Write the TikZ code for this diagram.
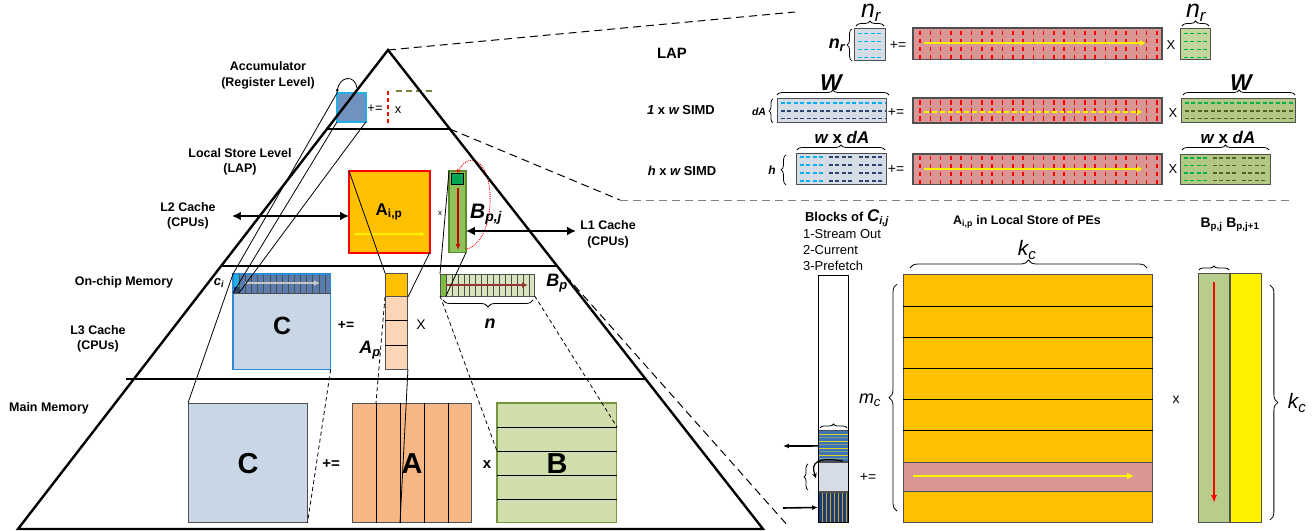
\documentclass[tikz,border=0pt]{standalone}
\usepackage{fontspec}
\setmainfont{Liberation Sans}
\usetikzlibrary{arrows.meta,decorations.pathreplacing,calc}
\newcommand\fsz[1]{\fontsize{#1}{#1}\selectfont}
\definecolor{accblue}{HTML}{7092BE}
\definecolor{cyanb}{HTML}{1FB0E8}
\definecolor{orng}{HTML}{FFC000}
\definecolor{grnstrip}{HTML}{8FC25A}
\definecolor{grnborder}{HTML}{5E8A2E}
\definecolor{dkgrn}{HTML}{00A650}
\definecolor{cfill}{HTML}{C9D6E6}
\definecolor{cblue}{HTML}{2C8AD3}
\definecolor{cstrip}{HTML}{5B7DAE}
\definecolor{peach}{HTML}{FBD5B5}
\definecolor{bpfill}{HTML}{D7E4BD}
\definecolor{bpcell}{HTML}{7DBB42}
\definecolor{darkred}{HTML}{953735}
\definecolor{mainA}{HTML}{F7B784}
\definecolor{mainB}{HTML}{CFDEAB}
\definecolor{mainBb}{HTML}{77933C}
\definecolor{lapred}{HTML}{D99694}
\definecolor{lgb}{HTML}{D6DCE5}
\definecolor{lapgrn}{HTML}{C3D69B}
\definecolor{simdgrn}{HTML}{B1C783}
\definecolor{navy}{HTML}{2E4470}
\definecolor{dkolive}{HTML}{4F6228}
\definecolor{dashgrn}{HTML}{00B050}
\definecolor{dashcyan}{HTML}{00B0F0}
\definecolor{olivedash}{HTML}{6E8B3D}
\definecolor{streamblue}{HTML}{3F73B5}
\definecolor{prefnavy}{HTML}{1F3C6E}
\definecolor{ochre}{HTML}{C9A43C}
\definecolor{sage}{HTML}{7FA08A}
\definecolor{bcol}{HTML}{B8CC8B}
\definecolor{boxgray}{HTML}{505050}
\definecolor{arrgray}{HTML}{C8C8C8}
\tikzset{
 bx/.style={draw=boxgray, line width=1, inner sep=0, outer sep=0, anchor=north west},
 lbl/.style={font=\fontsize{12.5}{15.5}\selectfont\bfseries, align=center, inner sep=0},
 txt/.style={inner sep=0},
 proj/.style={line width=0.8},
 projd/.style={line width=0.8, dash pattern=on 4 off 3},
 callout/.style={line width=1, dash pattern=on 8 off 5},
 brc/.style={decorate, decoration={brace, amplitude=#1}, line width=0.8},
 brc/.default=5,
 harrow/.style={line width=2.4, {Latex[length=9,width=9]}-{Latex[length=9,width=9]}},
 flow/.style={line width=1.6, -{Latex[length=6,width=5]}},
 reddash/.style={red, line width=1.6, dash pattern=on 4.5 off 3.5},
 hdash/.style={line width=1.6, dash pattern=on 4 off 2.5},
}
\begin{document}
\begin{tikzpicture}[x=1bp,y=-1bp]
\useasboundingbox[fill=white] (0,0) rectangle (1315,531);

% ---------------- pyramid
\coordinate (apex) at (388,50);
\coordinate (pbl) at (18,529);
\coordinate (pbr) at (763,529);
\coordinate (l1a) at ($(apex)!0.1649!(pbl)$);
\coordinate (l1b) at ($(apex)!0.1649!(pbr)$);
\coordinate (l2a) at ($(apex)!0.4509!(pbl)$);
\coordinate (l2b) at ($(apex)!0.4509!(pbr)$);
\coordinate (l3a) at ($(apex)!0.6868!(pbl)+(-8,0)$);
\coordinate (l3b) at ($(apex)!0.6868!(pbr)$);

% ---------------- labels left
\node[lbl] (tacc) at (268,75.5) {Accumulator\\(Register Level)};
\node[lbl] (tls) at (240,162) {Local Store Level\\(LAP)};
\node[lbl] (tl2) at (188,216) {L2 Cache\\(CPUs)};
\node[lbl] (tl1) at (608,234.5) {L1 Cache\\(CPUs)};
\node[lbl] (toc) at (124,282) {On-chip Memory};
\node[lbl] (tl3) at (98,339) {L3 Cache\\(CPUs)};
\node[lbl] (tmm) at (49,408) {Main Memory};

% ---------------- accumulator level
\node[bx, draw=cyanb, line width=1.8, fill=accblue, minimum width=29, minimum height=29] (acc) at (337,93) {};
\node[txt, font=\fsz{13}] (accpe) at (375,109) {+=};
\node[txt, font=\fsz{13}] (accx) at (398,110) {x};
\coordinate (rdt) at (388,91); \coordinate (rdb) at (388,125);
\draw[red, line width=2.2, dash pattern=on 4 off 3] (rdt) -- (rdb);
\coordinate (gdl) at (396,91); \coordinate (gdr) at (433,91);
\draw[olivedash, line width=2.4, dash pattern=on 6 off 4] (gdl) -- (gdr);
\coordinate (loopst) at (357,88);
\draw[line width=0.8, -{Stealth[length=4,width=3]}] (loopst) .. controls (355,74) and (339,76) .. (acc.north west);

% ---------------- local store level
\node[bx, draw=red, line width=1.8, fill=orng, minimum width=81, minimum height=82] (Aip) at (349,171) {};
\node[txt, font=\fsz{17}\bfseries] (tAip) at (389,212) {A\textsubscript{i,p}};
\coordinate (yal) at (354,234); \coordinate (yar) at (426,234);
\draw[yellow, line width=1.8, -{Latex[length=6,width=5]}] (yal) -- (yar);
\node[txt, font=\fsz{8}] (tx1) at (440,213) {x};
\node[bx, draw=grnborder, line width=1.5, fill=grnstrip, minimum width=17, minimum height=82] (Bpj) at (449,171) {};
\node[bx, draw=black, line width=0.8, fill=dkgrn, minimum width=12, minimum height=11] (Bsq) at (451,173) {};
\coordinate (rat) at (458,188); \coordinate (rab) at (458,250);
\draw[red!80!black, line width=1.5, -{Latex[length=6,width=5]}] (rat) -- (rab);
\coordinate (elst) at (467,249);
\draw[red, densely dotted, line width=0.9, -{Stealth[length=4,width=4]}] (elst) .. controls (497,240) and (497,162) .. (472,160) .. controls (466,160) and (461,166) .. (Bsq.north);
\node[txt, font=\fsz{21}\bfseries\itshape, anchor=west] (tBpj) at (470,214) {B\textsubscript{\fsz{14}p,j}};
\coordinate (l2end) at (232,216);
\draw[harrow] (l2end) -- (Aip.west |- l2end);
\coordinate (l1end) at (576,231);
\draw[harrow] (Bpj.east |- l1end) -- (l1end);

% ---------------- on-chip level
\node[bx, draw=cblue, line width=1.5, fill=cfill, minimum width=98, minimum height=96] (Con) at (233,274) {};
\node[bx, draw=none, fill=cstrip, minimum width=98, minimum height=19] (Cstrip) at (233,274) {};
\foreach \k in {1,...,15} \draw[black!70, line width=0.5] ({233+6.125*\k},274) -- ++(0,19);
\node[bx, draw=none, fill=navy, minimum width=6, minimum height=19] (cidk) at (233,274) {};
\node[bx, draw=none, fill=cyanb, minimum width=6, minimum height=13] (ci) at (233,274) {};
\draw[cblue, line width=1.5] (Con.north west) rectangle (Con.south east);
\draw[black!70, line width=0.6] (Cstrip.south west) -- (Cstrip.south east);
\coordinate (gal) at (245,283); \coordinate (gar) at (320,283);
\draw[arrgray, line width=2, -{Latex[length=6,width=6]}] (gal) -- (gar);
\node[txt, font=\fsz{13}\bfseries\itshape] (tci) at (219,283) {c\textsubscript{i}};
\node[txt, font=\fsz{25}\bfseries] (tC1) at (282,326) {C};
\node[txt, font=\fsz{14}\bfseries] (tpe1) at (346,325) {+=};
\node[bx, fill=peach, line width=0.9, minimum width=23, minimum height=97] (Ap) at (385,273) {};
\node[bx, fill=orng, line width=0.9, minimum width=23, minimum height=24] (Apo) at (385,273) {};
\draw[line width=0.8] (385,320) -- (408,320) (385,345) -- (408,345);
\node[txt, font=\fsz{18}\bfseries\itshape] (tAp) at (370,350) {A\textsubscript{\fsz{13}p}};
\node[txt, font=\fsz{14}] (tX1) at (421,325) {X};
\node[bx, fill=bpfill, line width=0.8, minimum width=95, minimum height=22] (Bp) at (440,274) {};
\foreach \k in {1,...,15} \draw[black!70, line width=0.5] ({440+5.94*\k},274) -- ++(0,22);
\node[bx, fill=bpcell, line width=0.6, minimum width=6, minimum height=22] (Bpc) at (440,274) {};
\coordinate (dal) at (446,285); \coordinate (dar) at (528,285);
\draw[darkred, line width=1.8, -{Latex[length=6,width=6]}] (dal) -- (dar);
\coordinate (nbr) at (533,300); \coordinate (nbl) at (443,300);
\draw[brc=7] (nbr) -- (nbl);
\node[txt, font=\fsz{18}\bfseries\itshape] (tn) at (490,324) {n};
\node[txt, font=\fsz{18}\bfseries\itshape] (tBp) at (557,283) {B\textsubscript{\fsz{13}p}};

% ---------------- main memory
\node[bx, fill=cfill, minimum width=120, minimum height=120] (Cm) at (188,403) {};
\node[bx, fill=mainA, minimum width=120, minimum height=120] (Am) at (352,403) {};
\foreach \k in {1,...,4} \draw[line width=0.8] ({352+24*\k},403) -- ++(0,120);
\node[bx, draw=mainBb, line width=1.6, fill=mainB, minimum width=120, minimum height=120] (Bm) at (497,403) {};
\foreach \k in {1,...,4} \draw[line width=0.8] (497,{403+24*\k}) -- ++(120,0);
\node[txt, font=\fsz{29}\bfseries] (tC2) at (248,464) {C};
\node[txt, font=\fsz{29}\bfseries] (tA2) at (412,464) {A};
\node[txt, font=\fsz{29}\bfseries] (tB2) at (557,464) {B};
\node[txt, font=\fsz{15}\bfseries] (tpe2) at (331,464) {+=};
\node[txt, font=\fsz{15}\bfseries] (tx2) at (487,465) {x};

% ---------------- projection lines
\draw[proj] (acc.north west) -- (ci.north west);
\draw[proj] (acc.south west) -- (cidk.south west);
\draw[proj] (acc.south east) -- (cidk.south east);
\draw[proj] (Aip.north west) -- (Ap.north west);
\draw[proj] (Aip.south east) -- (Apo.south east);
\draw[proj] (Bpj.north west) -- (Bp.north west);
\draw[proj] (Bpj.south east) -- (Bpc.south east);
\draw[proj] (Con.north west) -- (Cm.north west);
\draw[projd] (Con.south east) -- (Cm.south east);
\coordinate (amc1) at (376,403); \coordinate (amc2) at (400,523);
\draw[projd] (Apo.south west) -- (amc1);
\draw[proj] (Ap.south east) -- (amc2);
\coordinate (bml) at (497,451); \coordinate (bmr) at (617,427);
\draw[projd] (Bp.south west) -- (bml);
\draw[projd] (Bp.south east) -- (bmr);

% pyramid lines on top
\draw[line width=2.4, line join=miter] (pbl) -- (apex) -- (pbr) -- cycle;
\draw[line width=2] (l1a) -- (l1b);
\draw[line width=2] (l2a) -- (l2b);
\draw[line width=2] (l3a) -- (l3b);

% callout dashed lines
\coordinate (co1) at (795,12);
\draw[callout] (apex) -- (co1);
\coordinate (co2) at (620,200); \coordinate (co3) at (1290,200);
\draw[callout] (l1b) -- (co2);
\draw[callout, gray] (co2) -- (co3);
\coordinate (co4) at (789,527);
\draw[callout] (l2b) -- (co4);

% ---------------- right: LAP row
\node[txt, font=\fsz{15}\bfseries] (tlap) at (672,53) {LAP};
\node[bx, fill=lgb, minimum width=32, minimum height=32] (b1) at (854,29) {};
\foreach \yy in {33.5,41.5,49.5,57.5} \draw[hdash, dashcyan] (858,\yy) -- (882,\yy);
\node[txt, font=\fsz{14}] (pe1) at (898,45) {+=};
\node[bx, fill=lapred, line width=1.2, minimum width=250, minimum height=32] (r1) at (913,28) {};
\foreach \k in {0,...,23} \draw[reddash] ({920+10.3*\k},31) -- ++(0,28.5);
\coordinate (y1l) at (924,43); \coordinate (y1r) at (1146,43);
\draw[yellow, line width=2, -{Latex[length=6,width=6]}] (y1l) -- (y1r);
\node[txt, font=\fsz{13}] (x1) at (1171,45) {X};
\node[bx, fill=lapgrn, minimum width=31, minimum height=31] (g1) at (1180,29) {};
\foreach \yy in {33.5,41.5,49.5,57.5} \draw[hdash, dashgrn] (1184,\yy) -- (1208,\yy);
\draw[brc=5] (b1.north west) ++(2,-3) -- ++(28,0);
\draw[brc=5] (b1.south west) ++(-2,0) -- ++(0,-32);
\draw[brc=5] (g1.north west) ++(2,-3) -- ++(27,0);
\node[txt, font=\fsz{25}\itshape] (nr1) at (871,13) {n\textsubscript{\fsz{17}r}};
\node[txt, font=\fsz{18}\bfseries\itshape] (nr2) at (837,45) {n\textsubscript{\fsz{13}r}};
\node[txt, font=\fsz{25}\itshape] (nr3) at (1196,13) {n\textsubscript{\fsz{17}r}};

% ---------------- 1 x w SIMD row
\node[txt, font=\fsz{13}\bfseries] (tsimd1) at (681,110) {\itshape 1\upshape{} x \itshape w\upshape{} SIMD};
\node[bx, fill=lgb, minimum width=110, minimum height=24] (b2) at (777,99) {};
\draw[hdash, dashcyan] (781,103) -- (885,103);
\draw[hdash, navy] (781,111) -- (885,111);
\draw[hdash, navy] (781,118.5) -- (885,118.5);
\node[txt, font=\fsz{14}] (pe2) at (896,112) {+=};
\node[bx, fill=lapred, line width=1.2, minimum width=250, minimum height=25] (r2) at (913,98) {};
\foreach \k in {0,...,23} \draw[reddash] ({920+10.3*\k},100.5) -- ++(0,20.5);
\coordinate (y2l) at (924,112); \coordinate (y2r) at (1143,112);
\draw[yellow, line width=2, dash pattern=on 5 off 3, -{Latex[length=6,width=6]}] (y2l) -- (y2r);
\node[txt, font=\fsz{13}] (x2) at (1173,113) {X};
\node[bx, fill=simdgrn, minimum width=115, minimum height=24] (g2) at (1181,99) {};
\draw[hdash, dashgrn] (1185,103) -- (1293,103);
\draw[hdash, dkolive] (1185,111) -- (1293,111);
\draw[hdash, dkolive] (1185,118.5) -- (1293,118.5);
\draw[brc=5] (b2.north west) ++(0,-4) -- ++(112,0);
\draw[brc=5] (g2.north west) ++(2,-4) -- ++(112,0);
\draw[brc=4] (b2.south west) ++(-4,0) -- ++(0,-24);
\node[txt, font=\fsz{23}\bfseries\itshape] (W1) at (831,83) {W};
\node[txt, font=\fsz{23}\bfseries\itshape] (W2) at (1241,83) {W};
\node[txt, font=\fsz{10.5}\bfseries\itshape] (tdA) at (759,112) {dA};

% ---------------- h x w SIMD row
\node[txt, font=\fsz{13}\bfseries] (tsimd2) at (682,171) {\itshape h\upshape{} x \itshape w\upshape{} SIMD};
\node[bx, fill=lgb, minimum width=91, minimum height=32] (b3) at (796,153) {};
\foreach \yy in {157,165,173,181} {
  \draw[hdash, dashcyan] (800,\yy) -- (824,\yy);
  \draw[hdash, navy] (829,\yy) -- (853,\yy);
  \draw[hdash, navy] (859,\yy) -- (883,\yy);
}
\node[txt, font=\fsz{14}] (pe3) at (896,169) {+=};
\node[bx, fill=lapred, line width=1.2, minimum width=250, minimum height=31] (r3) at (913,154) {};
\foreach \k in {0,...,23} \draw[reddash] ({920+10.3*\k},156) -- ++(0,28.5);
\coordinate (y3l) at (924,169); \coordinate (y3r) at (1143,169);
\draw[yellow, line width=2, -{Latex[length=6,width=6]}] (y3l) -- (y3r);
\node[txt, font=\fsz{13}] (x3) at (1173,169) {X};
\node[bx, fill=simdgrn, minimum width=91, minimum height=31] (g3) at (1180,154) {};
\foreach \yy in {158,165.5,173,180.5} {
  \draw[hdash, dashgrn] (1184,\yy) -- (1208,\yy);
  \draw[hdash, dkolive] (1213,\yy) -- (1237,\yy);
  \draw[hdash, dkolive] (1242,\yy) -- (1266,\yy);
}
\draw[brc=5] (b3.north west) ++(1,-3) -- ++(88,0);
\draw[brc=5] (g3.north west) ++(2,-4) -- ++(87,0);
\draw[brc=5] (b3.south west) ++(-10,0) -- ++(0,-30);
\node[txt, font=\fsz{17}\bfseries\itshape] (wdA1) at (842,137) {w \upshape x\itshape{} dA};
\node[txt, font=\fsz{17}\bfseries\itshape] (wdA2) at (1228,137) {w \upshape x\itshape{} dA};
\node[txt, font=\fsz{12}\bfseries\itshape] (th) at (772,170) {h};

% ---------------- bottom right
\node[txt, font=\fsz{13}\bfseries] (tblk) at (847,218) {Blocks of {\fsz{17}\itshape C\textsubscript{\fsz{11}i,j}}};
\node[txt, font=\fontsize{13}{16}\selectfont, anchor=west, align=left] (tso) at (803,250) {1-Stream Out\\2-Current\\3-Prefetch};
\node[bx, fill=white, minimum width=31, minimum height=248] (col) at (818,275) {};
\node[bx, fill=streamblue, minimum width=31, minimum height=32] (sb) at (818,430) {};
\foreach \yy in {434,441,448,455} \draw[yellow!85!black, line width=0.8] (818.5,\yy) -- (848.5,\yy);
\foreach \yy in {437.5,444.5,451.5,458.5} \draw[sage, line width=0.8] (818.5,\yy) -- (848.5,\yy);
\node[bx, fill=lgb, minimum width=31, minimum height=30] (cb) at (818,462) {};
\node[bx, fill=prefnavy, minimum width=31, minimum height=31] (pb) at (818,492) {};
\foreach \k in {0,...,6} \draw[ochre, line width=0.8] ({822+4*\k},492.5) -- ++(0,30);
\draw[line width=1] (col.north west) rectangle (col.south east);
\draw[brc=4] (sb.north west) ++(2,-2) -- ++(27,0);
\coordinate (soe) at (783,446);
\draw[flow] (sb.west) -- (soe);
\coordinate (pfs) at (783,508);
\draw[flow] (pfs) -- (pb.west);
\draw[brc=4] (cb.south west) ++(-10,-2) -- ++(0,-26);
\coordinate (cas) at (843,461);
\draw[line width=1.2, -{Stealth[length=5,width=5]}] (cas) .. controls (818,457) and (810,462) .. (816,478);
\node[txt, font=\fsz{14}] (pe4) at (868,477) {+=};
\node[txt, font=\fsz{18}\itshape] (tmc) at (870,400) {m\textsubscript{\fsz{13}c}};

\node[txt, font=\fsz{12.5}\bfseries] (tAls) at (1027,222) {A\textsubscript{i,p} in Local Store of PEs};
\node[bx, fill=orng, line width=1, minimum width=250, minimum height=249] (AL) at (903,274) {};
\node[bx, fill=lapred, line width=1, minimum width=250, minimum height=30] (ALr) at (903,462) {};
\foreach \yy in {306,337,368,399,430} \draw[line width=1] (903,\yy) -- (1153,\yy);
\coordinate (y4l) at (913,476); \coordinate (y4r) at (1134,476);
\draw[yellow, line width=2, -{Latex[length=7,width=7]}] (y4l) -- (y4r);
\draw[brc=8] (AL.north west) ++(7,-6) -- ++(237,0);
\draw[brc=8] (AL.south west) ++(-6,-11) -- ++(0,-227);
\node[txt, font=\fsz{21}\itshape] (tkc1) at (1027,250) {k\textsubscript{\fsz{15}c}};
\node[txt, font=\fsz{14}] (x4) at (1176,400) {x};

\node[txt, font=\fsz{14}\bfseries] (tBB) at (1230,225) {B\textsubscript{p,j} B\textsubscript{p,j+1}};
\node[bx, fill=bcol, minimum width=32, minimum height=250] (BL) at (1198,273) {};
\node[bx, fill=yellow, minimum width=32, minimum height=250] (BY) at (1230,273) {};
\coordinate (rbt) at (1214,282); \coordinate (rbb) at (1214,503);
\draw[red, line width=1.5, -{Latex[length=8,width=6]}] (rbt) -- (rbb);
\draw[brc=4] (BL.north west) ++(1,-3) -- ++(30,0);
\draw[brc=8] (BY.north east) ++(8,12) -- ++(0,235);
\node[txt, font=\fsz{21}\itshape] (tkc2) at (1297,403) {k\textsubscript{\fsz{15}c}};
\end{tikzpicture}
\end{document}
